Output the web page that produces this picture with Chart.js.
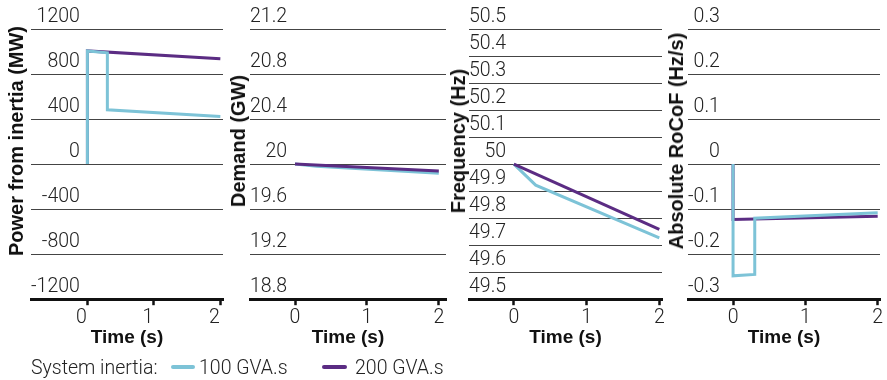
<!DOCTYPE html>
<html>
<head>
<meta charset="utf-8">
<script src="https://cdn.jsdelivr.net/npm/chart.js@4.4.1/dist/chart.umd.min.js"></script>
<style>
  body { margin: 0; background: #fff; }
  #wrap { position: relative; width: 887px; height: 380px; overflow: hidden; }
  #wrap canvas { position: absolute; left: 0; top: 0; }
  .ytitle {
    position: absolute; top: 141px; white-space: nowrap; color: #111;
    font: bold 20px "Liberation Sans", Arial, sans-serif; line-height: 20px;
    transform: translate(-50%, -50%) rotate(-90deg);
  }
  .leg { position: absolute; top: 356px; line-height: 20px; white-space: nowrap;
    font: 300 19.5px Roboto, sans-serif; color: #222; }
  .swatch { position: absolute; top: 365px; height: 4px; border-radius: 2px; }
</style>
</head>
<body>
<div id="wrap">
  <canvas id="c1" width="887" height="380"></canvas>
  <canvas id="c2" width="887" height="380"></canvas>
  <canvas id="c3" width="887" height="380"></canvas>
  <canvas id="c4" width="887" height="380"></canvas>
  <div class="ytitle" style="left:16px">Power from inertia (MW)</div>
  <div class="ytitle" style="left:238px">Demand (GW)</div>
  <div class="ytitle" style="left:458px">Frequency (Hz)</div>
  <div class="ytitle" style="left:676px">Absolute RoCoF (Hz/s)</div>
  <div class="leg" style="left:31px">System inertia:</div>
  <div class="swatch" id="sw1" style="left:171px;width:24px"></div>
  <div class="leg" id="lg1" style="left:199px"></div>
  <div class="swatch" id="sw2" style="left:322px;width:25px"></div>
  <div class="leg" id="lg2" style="left:355px"></div>
</div>
<script>
// series names and colours
const seriesNames = ['100 GVA.s', '200 GVA.s'];
const colors = ['#7dc3d7', '#5b2c83'];

const timeTicks = [0, 1, 2];

// power from inertia (MW)
const powerT100 = [0, 0, 0.3, 0.3, 2];
const power100 = [0, 1005, 988, 482, 423];
const powerT200 = [0, 0, 2];
const power200 = [0, 1005, 935];
const powerTicks = [-1200, -800, -400, 0, 400, 800, 1200];

// demand (GW)
const demandT100 = [0, 0.3, 2];
const demand100 = [20, 19.98, 19.918];
const demandT200 = [0, 2];
const demand200 = [20, 19.938];
const demandTicks = [18.8, 19.2, 19.6, 20, 20.4, 20.8, 21.2];

// frequency (Hz)
const freqT100 = [0, 0.3, 2];
const freq100 = [50, 49.922, 49.727];
const freqT200 = [0, 2];
const freq200 = [50, 49.758];
const freqTicks = [49.5, 49.6, 49.7, 49.8, 49.9, 50, 50.1, 50.2, 50.3, 50.4, 50.5];

// absolute RoCoF (Hz/s)
const rocofT100 = [0, 0, 0.3, 0.3, 2];
const rocof100 = [0, -0.248, -0.245, -0.120, -0.108];
const rocofT200 = [0, 0, 2];
const rocof200 = [0, -0.123, -0.116];
const rocofTicks = [-0.3, -0.2, -0.1, 0, 0.1, 0.2, 0.3];

const toPoints = (t, v) => t.map((x, i) => ({ x: x, y: v[i] }));

const lightFont = { family: 'Roboto', weight: 300, size: 19.5, lineHeight: 1 };

function makePanel(id, p) {
    new Chart(document.getElementById(id), {
        type: 'line',
        data: {
            datasets: [
                {
                    label: seriesNames[0],
                    data: toPoints(p.t1, p.v1),
                    borderColor: colors[0],
                    borderWidth: 3,
                    order: p.blueOnTop ? 0 : 1
                },
                {
                    label: seriesNames[1],
                    data: toPoints(p.t2, p.v2),
                    borderColor: colors[1],
                    borderWidth: 3,
                    order: p.blueOnTop ? 1 : 0
                }
            ]
        },
        options: {
            responsive: false,
            animation: false,
            events: [],
            elements: { point: { radius: 0 }, line: { tension: 0, fill: false } },
            layout: { padding: { left: p.left, right: p.right, top: 29, bottom: 36 } },
            plugins: { legend: { display: false }, tooltip: { enabled: false } },
            scales: {
                x: {
                    type: 'linear',
                    min: p.xMin,
                    max: p.xMax,
                    afterBuildTicks: (axis) => { axis.ticks = timeTicks.map(v => ({ value: v })); },
                    border: { display: true, color: '#111', width: 3 },
                    grid: { drawOnChartArea: false, drawTicks: true, tickLength: 6, tickWidth: 2.5, tickColor: '#111' },
                    ticks: { color: '#222', font: lightFont, padding: 3, maxRotation: 0, autoSkip: false, labelOffset: p.xLabelOffset || 0 },
                    title: {
                        display: true, text: 'Time (s)', color: '#111', padding: 0,
                        font: { family: 'Liberation Sans', weight: 'bold', size: 19, lineHeight: 0.7 }
                    }
                },
                y: {
                    min: p.yTicks[0],
                    max: p.yTicks[p.yTicks.length - 1],
                    afterBuildTicks: (axis) => { axis.ticks = p.yTicks.map(v => ({ value: v })); },
                    border: { display: false },
                    grid: { color: '#444', lineWidth: 1, drawTicks: false },
                    ticks: {
                        mirror: true, crossAlign: 'far', padding: 0, labelOffset: -12,
                        color: '#222', font: lightFont,
                        callback: (v) => String(Math.round(v * 1000) / 1000)
                    }
                }
            }
        }
    });
}

makePanel('c1', { left: 31, right: 664, xMin: -0.849, xMax: 2.04, xLabelOffset: -6,
    t1: powerT100, v1: power100, t2: powerT200, v2: power200, yTicks: powerTicks, blueOnTop: true });
makePanel('c2', { left: 250, right: 441, xMin: -0.626, xMax: 2.10,
    t1: demandT100, v1: demand100, t2: demandT200, v2: demand200, yTicks: demandTicks, blueOnTop: false });
makePanel('c3', { left: 469, right: 225, xMin: -0.617, xMax: 2.037,
    t1: freqT100, v1: freq100, t2: freqT200, v2: freq200, yTicks: freqTicks, blueOnTop: false });
makePanel('c4', { left: 688, right: 7, xMin: -0.623, xMax: 2.032,
    t1: rocofT100, v1: rocof100, t2: rocofT200, v2: rocof200, yTicks: rocofTicks, blueOnTop: true });

// legend
document.getElementById('sw1').style.background = colors[0];
document.getElementById('sw2').style.background = colors[1];
document.getElementById('lg1').textContent = seriesNames[0];
document.getElementById('lg2').textContent = seriesNames[1];
</script>
</body>
</html>
